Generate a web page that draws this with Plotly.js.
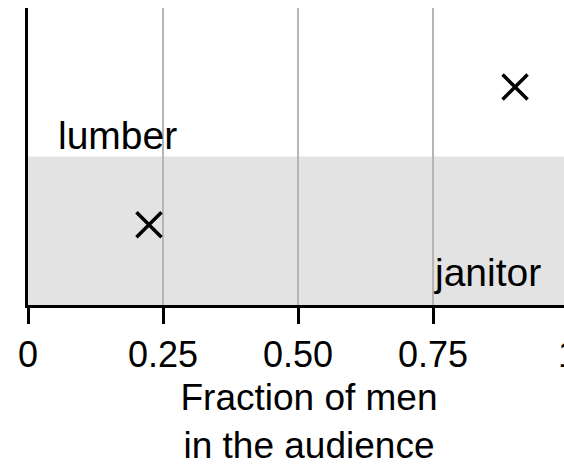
<!DOCTYPE html>
<html>
<head>
<meta charset="utf-8">
<script src="https://cdn.plot.ly/plotly-3.0.1.min.js"></script>
<style>
html,body{margin:0;padding:0;overflow:hidden;background:#fff;}
#chart{width:620px;height:466px;}
</style>
</head>
<body>
<div id="chart"></div>
<script>
// Data
const jobs = ["lumber", "janitor"];
const fracMen = [0.224, 0.902];
const yValues = [0.27, 0.734];
const labelX = [0.165, 0.851];
const labelY = [0.572, 0.108];
const bandLow = 0;
const bandHigh = 0.5;
const tickVals = [0, 0.25, 0.5, 0.75, 1];
const tickText = ["0", "0.25", "0.50", "0.75", "1"];

const FONT = "Liberation Sans, Arial, Helvetica, sans-serif";

const trace = {
  x: fracMen,
  y: yValues,
  text: jobs,
  mode: "markers",
  type: "scatter",
  marker: {symbol: "x-thin-open", size: 25, color: "#000", line: {color: "#000", width: 3.5}},
  hoverinfo: "text",
  showlegend: false
};

const annotations = jobs.map((j, i) => ({
  x: labelX[i], y: labelY[i], xref: "x", yref: "y",
  text: j, showarrow: false, xanchor: "center", yanchor: "middle",
  font: {family: FONT, size: 39, color: "#000"}
}));

const layout = {
  width: 620, height: 466,
  margin: {l: 28, r: 30, t: 8, b: 161},
  paper_bgcolor: "#fff", plot_bgcolor: "#fff",
  font: {family: FONT, color: "#000"},
  xaxis: {
    range: [0, 562 / 540],
    tickvals: tickVals, ticktext: tickText,
    ticks: "outside", ticklen: 16, tickwidth: 3, tickcolor: "#000",
    tickfont: {family: FONT, size: 36, color: "#000"},
    showline: true, linecolor: "#000", linewidth: 3,
    showgrid: true, gridcolor: "#b5b5b5", gridwidth: 2.5,
    zeroline: false, fixedrange: true,
    title: {text: "Fraction of men<br>in the audience", font: {family: FONT, size: 37, color: "#000"}, standoff: 14}
  },
  yaxis: {
    range: [0, 1],
    showticklabels: false, ticks: "",
    showline: true, linecolor: "#000", linewidth: 3,
    showgrid: false, zeroline: false, fixedrange: true
  },
  shapes: [{
    type: "rect", layer: "below",
    xref: "paper", yref: "y",
    x0: 0, x1: 1, y0: bandLow, y1: bandHigh,
    fillcolor: "#e3e3e3", line: {width: 0}
  }],
  annotations: annotations
};

Plotly.newPlot("chart", [trace], layout, {displayModeBar: false, staticPlot: true});
</script>
</body>
</html>
